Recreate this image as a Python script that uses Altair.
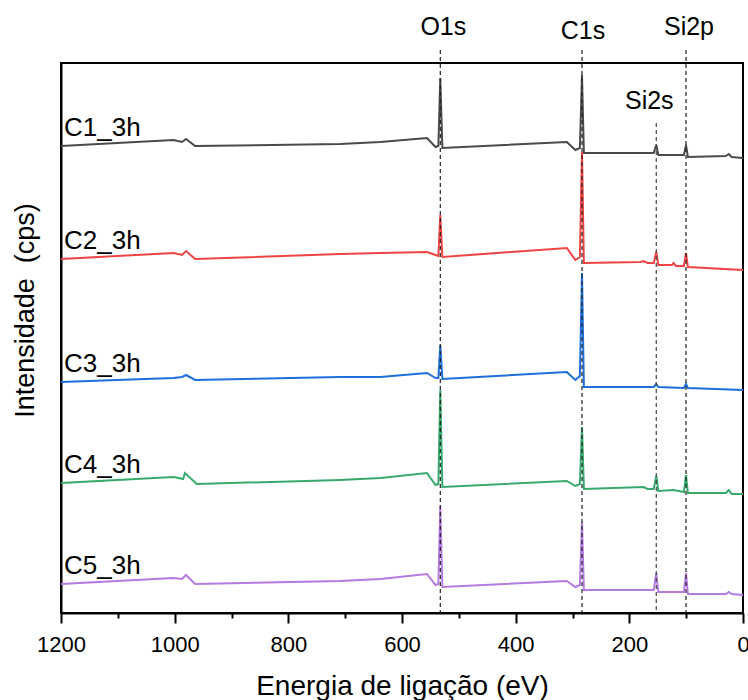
import altair as alt
import pandas as pd

# Sample names and line colours
amostras = ["C1_3h", "C2_3h", "C3_3h", "C4_3h", "C5_3h"]
cores = ["#4a4a4a", "#ef4444", "#1f6fdb", "#36a96b", "#b57ae0"]

# Survey spectra (binding energy in eV, stacked intensity in arbitrary cps units)
c1_ev = [1200, 1002, 987, 980, 964, 709, 638, 556, 541, 536, 532.6, 529, 310, 295, 287,
         283.3, 280, 175, 157, 152.6, 149, 122, 104, 100.3, 97, 30, 25, 20, 0]
c1_int = [467, 473, 471, 474, 467, 469, 471, 475, 466, 467, 535, 465, 471, 463, 465,
          538, 460, 460, 460, 468, 458, 458, 458, 468, 456, 457, 459, 456, 455]

c2_ev = [1200, 1002, 987, 980, 964, 709, 638, 556, 541, 536, 532.6, 529, 310, 295, 287,
         283.3, 280, 180, 175, 168, 157, 152.6, 149, 125, 122, 118, 104, 100.3, 97, 0]
c2_int = [354, 360, 358, 362, 354, 359, 360, 361, 358, 357, 398, 356, 365, 353, 356,
          461, 350, 351, 352, 350, 350, 361, 348, 348, 350, 347, 347, 360, 346, 343]

c3_ev = [1200, 1002, 987, 980, 964, 709, 638, 556, 541, 536, 532.6, 529, 310, 295, 287,
         283.3, 280, 157, 152.6, 149, 104, 100.3, 97, 0]
c3_int = [231, 235, 236, 238, 233, 236, 236, 240, 235, 235, 268, 234, 241, 233, 237,
          340, 226, 226, 229, 226, 225, 229, 225, 223]

c4_ev = [1200, 1002, 985, 982, 961, 709, 638, 556, 541, 536, 532.6, 529, 310, 295, 287,
         283.3, 280, 175, 168, 157, 152.6, 149, 122, 104, 100.3, 97, 30, 25, 20, 0]
c4_int = [130, 136, 134, 140, 129, 133, 135, 140, 128, 129, 223, 126, 132, 127, 129,
          186, 124, 126, 124, 124, 137, 122, 123, 121, 138, 120, 120, 123, 119, 119]

c5_ev = [1200, 1002, 987, 980, 964, 709, 638, 556, 541, 536, 532.6, 529, 310, 295, 287,
         283.3, 280, 157, 152.6, 149, 104, 100.3, 97, 30, 25, 20, 0]
c5_int = [29, 35, 34, 38, 29, 32, 34, 39, 28, 29, 107, 26, 32, 26, 28,
          91, 23, 23, 40, 21, 21, 40, 19, 19, 21, 19, 18]

# Core-level positions marked with dashed guides
picos = ["O1s", "C1s", "Si2s", "Si2p"]
picos_ev = [532.6, 283.3, 152.6, 100.3]

ticks_major = [1200, 1000, 800, 600, 400, 200, 0]
ticks_minor = [1100, 900, 700, 500, 300, 100]

energias = [c1_ev, c2_ev, c3_ev, c4_ev, c5_ev]
intensidades = [c1_int, c2_int, c3_int, c4_int, c5_int]

linhas = []
for nome, ev, it in zip(amostras, energias, intensidades):
    for e, v in zip(ev, it):
        linhas.append({"amostra": nome, "energia": e, "intensidade": v})
df = pd.DataFrame(linhas)

df_rotulos = pd.DataFrame({"amostra": amostras,
                           "intensidade": [s[0] for s in intensidades]})
df_picos = pd.DataFrame({"pico": picos, "energia": picos_ev})

FONT = "Liberation Sans"
x_scale = alt.Scale(domain=[0, 1200], reverse=True, nice=False, zero=False)
y_scale = alt.Scale(domain=[0, 550], nice=False, zero=False)

eixo_x = alt.Axis(
    values=ticks_major, format="d", orient="bottom",
    tickSize=10, tickWidth=2, tickColor="black",
    domainWidth=2, domainColor="black", grid=False,
    labelFont=FONT, labelFontSize=22, labelColor="black",
    labelBaseline="alphabetic", labelPadding=28, labelFlush=False,
    title="Energia de ligação (eV)", titleFont=FONT, titleFontSize=28,
    titleFontWeight="normal", titleColor="black",
    titleBaseline="alphabetic", titleY=81,
)
eixo_x_menor = alt.Axis(
    values=ticks_minor, orient="bottom", tickSize=5, tickWidth=2,
    tickColor="black", labels=False, domain=False, grid=False, title=None,
)
eixo_y = alt.Axis(
    orient="left", labels=False, ticks=False, grid=False,
    domainWidth=2, domainColor="black",
    title="Intensidade\u00a0 (cps)", titleFont=FONT, titleFontSize=27,
    titleFontWeight="normal", titleColor="black",
    titleBaseline="alphabetic", titleX=-28, titleY=247,
)

espectros = alt.Chart(df).mark_line(strokeWidth=2).encode(
    x=alt.X("energia:Q", scale=x_scale, axis=eixo_x),
    y=alt.Y("intensidade:Q", scale=y_scale, axis=eixo_y),
    color=alt.Color("amostra:N", scale=alt.Scale(domain=amostras, range=cores), legend=None),
    order=alt.Order("energia:Q"),
)

guias_topo = alt.Chart(df_picos).transform_filter(
    alt.FieldOneOfPredicate(field="pico", oneOf=["O1s", "C1s", "Si2p"])
).mark_rule(strokeDash=[4, 3], strokeWidth=1.2, color="#222").encode(
    x=alt.X("energia:Q", scale=x_scale, axis=eixo_x_menor),
    y=alt.value(-13), y2=alt.value(550),
)
guia_si2s = alt.Chart(df_picos).transform_filter(
    alt.FieldEqualPredicate(field="pico", equal="Si2s")
).mark_rule(strokeDash=[4, 3], strokeWidth=1.2, color="#444").encode(
    x=alt.X("energia:Q", scale=x_scale, axis=None),
    y=alt.value(60), y2=alt.value(550),
)

texto_base = dict(font=FONT, fontSize=25, color="black", baseline="alphabetic")

rot_topo = alt.Chart(df_picos).transform_filter(
    alt.FieldOneOfPredicate(field="pico", oneOf=["O1s", "Si2p"])
).mark_text(align="center", dx=3, **texto_base).encode(
    x=alt.X("energia:Q", scale=x_scale, axis=None),
    y=alt.value(-28), text="pico:N",
)
rot_c1s = alt.Chart(df_picos).transform_filter(
    alt.FieldEqualPredicate(field="pico", equal="C1s")
).mark_text(align="center", dx=1, **texto_base).encode(
    x=alt.X("energia:Q", scale=x_scale, axis=None),
    y=alt.value(-24), text="pico:N",
)
rot_si2s = alt.Chart(df_picos).transform_filter(
    alt.FieldEqualPredicate(field="pico", equal="Si2s")
).mark_text(align="center", dx=-7, **texto_base).encode(
    x=alt.X("energia:Q", scale=x_scale, axis=None),
    y=alt.value(46), text="pico:N",
)

rot_amostras = alt.Chart(df_rotulos).mark_text(
    align="left", dy=-10, font=FONT, fontSize=26, color="black", baseline="alphabetic"
).encode(
    x=alt.value(3),
    y=alt.Y("intensidade:Q", scale=y_scale, axis=eixo_y),
    text="amostra:N",
)

chart = alt.layer(
    espectros, guias_topo, guia_si2s, rot_topo, rot_c1s, rot_si2s, rot_amostras
).resolve_axis(x="independent").properties(
    width=682, height=550,
    autosize=alt.AutoSizeParams(type="none"),
    padding={"left": 61, "top": 63, "right": 5, "bottom": 87},
    background="white",
).configure_view(stroke="black", strokeWidth=2)

chart.save("out.html", embed_options={"renderer": "svg", "actions": False})
